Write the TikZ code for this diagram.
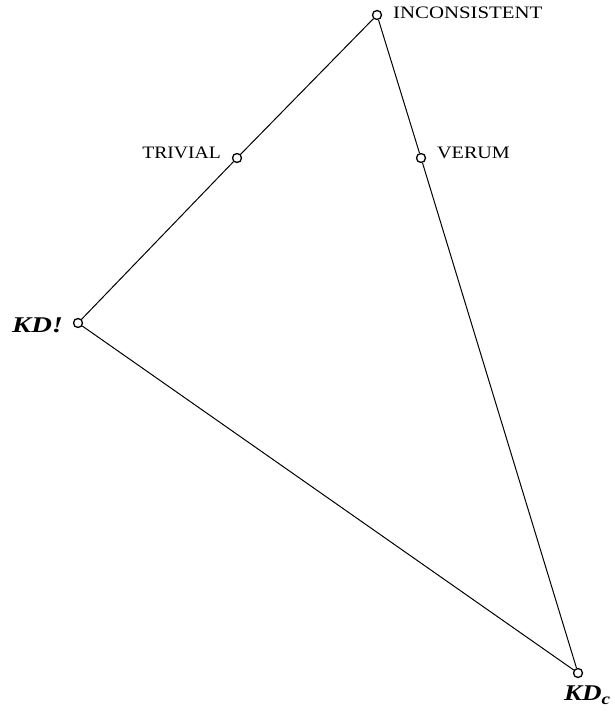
\documentclass[tikz,border=0pt]{standalone}
\usepackage{fontspec}
\setmainfont{Liberation Serif}
\begin{document}
\begin{tikzpicture}[x=1pt,y=-1pt,
  pt/.style={circle,draw,fill=white,line width=1.3pt,minimum size=9pt,inner sep=0pt},
  edge/.style={line width=1pt},
  caplab/.style={anchor=base west,inner sep=0pt,font=\fontsize{17.5}{19}\selectfont},
  kdlab/.style={anchor=base west,inner sep=0pt,font=\fontsize{22.5}{25}\selectfont\bfseries\itshape}]
\useasboundingbox (0,0) rectangle (614,714);
\node[pt] (inc) at (377,15) {};
\node[pt] (tri) at (237,158) {};
\node[pt] (ver) at (421,158) {};
\node[pt] (kdb) at (78,323) {};
\node[pt] (kdc) at (578,673) {};
\draw[edge] (inc) -- (tri) -- (kdb) -- (kdc) -- (ver) -- (inc);
\node[caplab] (linc) at (393,18.5) {\scalebox{1.19}[1]{INCONSISTENT}};
\node[caplab,anchor=base east] (ltri) at (221,158.5) {\scalebox{1.12}[1]{TRIVIAL}};
\node[caplab] (lver) at (437,158.5) {\scalebox{1.15}[1]{VERUM}};
\node[kdlab] (lkdb) at (12,332) {\scalebox{1.27}[1]{KD!}};
\node[kdlab] (lkdc) at (564,700) {\scalebox{1.2}[1]{KD\raisebox{-4pt}{\fontsize{16}{16}\selectfont c}}};
\end{tikzpicture}
\end{document}
